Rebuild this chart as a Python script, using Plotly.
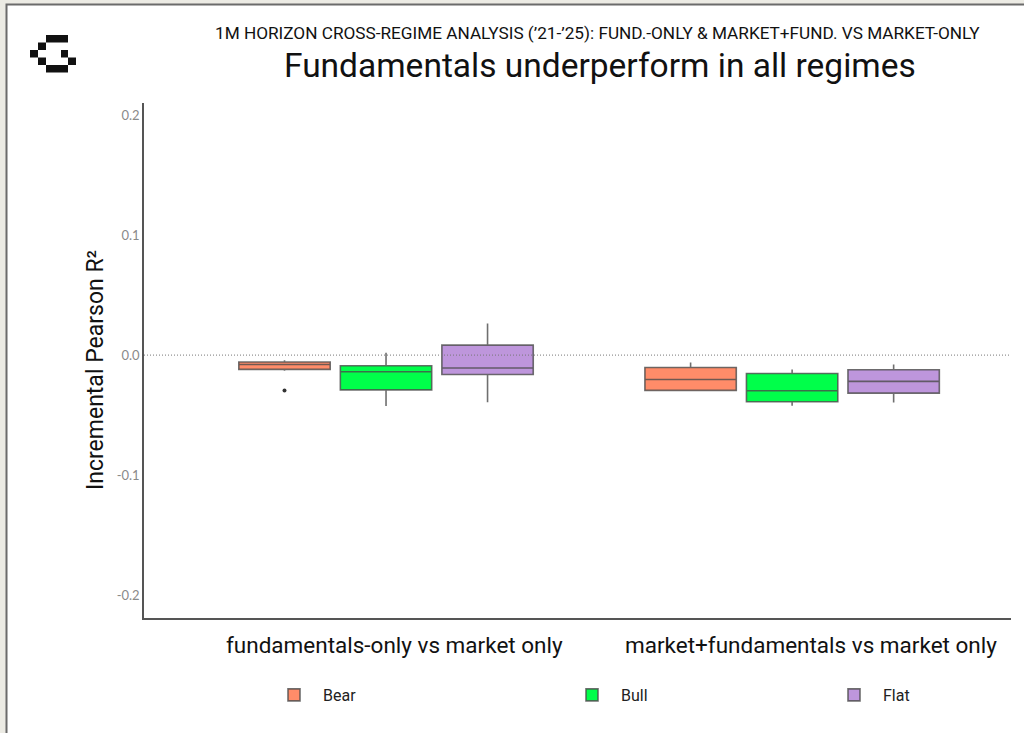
import plotly.graph_objects as go

# ---- data ----
categories = ["fundamentals-only vs market only", "market+fundamentals vs market only"]
regimes = ["Bear", "Bull", "Flat"]

q1 = {
    "Bear": [-0.0119, -0.0294],
    "Bull": [-0.0290, -0.0389],
    "Flat": [-0.0161, -0.0317],
}
median = {
    "Bear": [-0.0078, -0.0203],
    "Bull": [-0.0139, -0.0297],
    "Flat": [-0.0108, -0.0219],
}
q3 = {
    "Bear": [-0.0058, -0.0103],
    "Bull": [-0.0089, -0.0153],
    "Flat": [0.0083, -0.0122],
}
lowerfence = {
    "Bear": [-0.0131, -0.0300],
    "Bull": [-0.0425, -0.0422],
    "Flat": [-0.0392, -0.0394],
}
upperfence = {
    "Bear": [-0.0042, -0.0061],
    "Bull": [0.0019, -0.0119],
    "Flat": [0.0264, -0.0078],
}
outliers = {
    "Bear": [[-0.0294], []],
    "Bull": [[], []],
    "Flat": [[], []],
}

y_tickvals = [0.2, 0.1, 0.0, -0.1, -0.2]
y_ticktext = ["0.2", "0.1", "0.0", "-0.1", "-0.2"]

fill_colors = {"Bear": "#ff8c69", "Bull": "#00ff4a", "Flat": "#be96dc"}
legend_ids = {"Bear": "legend", "Bull": "legend2", "Flat": "legend3"}

# ---- geometry helpers (pixel -> paper) ----
W, H = 1024, 733
ML, MR, MT, MB = 144, 13, 103, 115
PW, PH = W - ML - MR, H - MT - MB


def px(x):
    return (x - ML) / PW


def py(y):
    return (H - MB - y) / PH


fig = go.Figure()
for r in regimes:
    has_pts = any(len(o) for o in outliers[r])
    fig.add_trace(go.Box(
        name=r,
        x=categories,
        y=outliers[r] if has_pts else None,
        q1=q1[r], median=median[r], q3=q3[r],
        lowerfence=lowerfence[r], upperfence=upperfence[r],
        boxpoints="outliers" if has_pts else False,
        fillcolor=fill_colors[r],
        line=dict(color="rgba(75,75,75,0.8)", width=1.6),
        whiskerwidth=0,
        marker=dict(color="#333333", size=4, outliercolor="#333333"),
        legend=legend_ids[r],
        showlegend=True,
    ))

shapes = []
# card background
shapes.append(dict(type="rect", xref="paper", yref="paper", layer="below",
                   x0=px(6.5), x1=px(1040), y0=py(760), y1=py(4.5),
                   fillcolor="white", line=dict(color="#6b6b6b", width=2)))
# zero reference line
shapes.append(dict(type="line", xref="paper", yref="y", x0=0, x1=1, y0=0, y1=0,
                   line=dict(color="#777777", width=1, dash="1px,2px")))
# logo pixels (x0, x1, y0, y1) in px
logo = [(46, 68, 35, 42.5), (38, 46, 42.5, 50), (30, 38, 50, 57.5), (38, 46, 57.5, 65),
        (46, 68, 65, 72.5), (61, 68, 50, 57.5), (68, 76, 57.5, 65)]
for a, b, c, d in logo:
    shapes.append(dict(type="rect", xref="paper", yref="paper",
                       x0=px(a), x1=px(b), y0=py(d), y1=py(c),
                       fillcolor="#111111", line=dict(width=0)))

annotations = [
    dict(text="1M HORIZON CROSS-REGIME ANALYSIS (\u201921-\u201925): FUND.-ONLY & MARKET+FUND. VS MARKET-ONLY",
         x=px(597), y=py(44.5), xref="paper", yref="paper", showarrow=False, borderpad=0,
         font=dict(family="Roboto", size=17.2, color="#111111"), xanchor="center", yanchor="bottom"),
    dict(text="Fundamentals underperform in all regimes",
         x=px(600), y=py(44.5), xref="paper", yref="paper", showarrow=False, borderpad=0,
         font=dict(family="Roboto", size=33.5, color="#111111"), xanchor="center", yanchor="top"),
    dict(text=categories[0], x=px(394), y=py(645), xref="paper", yref="paper", showarrow=False,
         font=dict(family="Roboto", size=22.5, color="#111111"), xanchor="center", yanchor="middle"),
    dict(text=categories[1], x=px(811), y=py(645), xref="paper", yref="paper", showarrow=False,
         font=dict(family="Roboto", size=22.5, color="#111111"), xanchor="center", yanchor="middle"),
    dict(text="Incremental Pearson R\u00b2", x=px(95), y=py(370), xref="paper", yref="paper",
         showarrow=False, textangle=-90,
         font=dict(family="Roboto", size=23, color="#111111"), xanchor="center", yanchor="middle"),
]

legend_common = dict(orientation="h", yanchor="middle", xanchor="left",
                     bgcolor="rgba(0,0,0,0)", itemwidth=48,
                     font=dict(family="Roboto", size=16, color="#222222"))

fig.update_layout(
    width=W, height=H,
    margin=dict(l=ML, r=MR, t=MT, b=MB),
    paper_bgcolor="#ecebe4",
    plot_bgcolor="white",
    boxmode="group", boxgap=0.25, boxgroupgap=0.1,
    shapes=shapes,
    annotations=annotations,
    showlegend=True,
    legend=dict(x=px(265), y=py(695), **legend_common),
    legend2=dict(x=px(563), y=py(695), **legend_common),
    legend3=dict(x=px(825), y=py(695), **legend_common),
    xaxis=dict(type="category", range=[-0.596, 1.539], showticklabels=False,
               showline=True, linecolor="#555555", linewidth=1.5, showgrid=False,
               zeroline=False, ticks=""),
    yaxis=dict(range=[-0.219, 0.21], tickvals=y_tickvals, ticktext=y_ticktext,
               showline=True, linecolor="#555555", linewidth=1.5, showgrid=False,
               zeroline=False, ticks="",
               tickfont=dict(family="Lato", size=13, color="#8a8a8a")),
)

fig.write_html("out.html", config={"displayModeBar": False},
               post_script="document.body.style.margin='0';")
